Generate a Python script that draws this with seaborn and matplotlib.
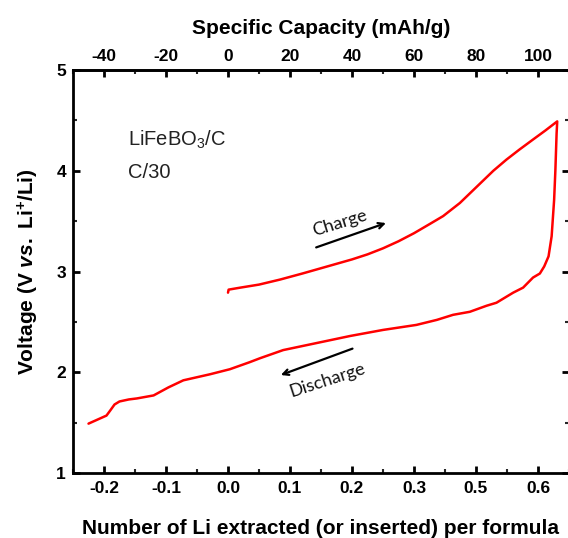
import numpy as np
import pandas as pd
import matplotlib
matplotlib.use("Agg")
import matplotlib.pyplot as plt
import seaborn as sns

# ---- data (x = Li per formula unit, V = voltage) ----
charge_x = [0.000, 0.001, 0.020, 0.050, 0.084, 0.120, 0.160, 0.200, 0.225, 0.250,
            0.275, 0.300, 0.325, 0.347, 0.374, 0.401, 0.428, 0.449, 0.470, 0.492,
            0.512, 0.531]
charge_v = [2.79, 2.82, 2.84, 2.87, 2.92, 2.98, 3.05, 3.12, 3.17, 3.23,
            3.30, 3.38, 3.47, 3.55, 3.68, 3.84, 4.00, 4.11, 4.21, 4.31,
            4.40, 4.49]
discharge_x = [0.530, 0.528, 0.526, 0.522, 0.517, 0.510, 0.503, 0.492, 0.476, 0.460,
               0.433, 0.417, 0.390, 0.363, 0.337, 0.304, 0.250, 0.197, 0.143, 0.089,
               0.052, 0.035, 0.003, -0.029, -0.072, -0.096, -0.120, -0.147, -0.160,
               -0.175, -0.183, -0.190, -0.196, -0.225]
discharge_v = [4.37, 4.00, 3.71, 3.35, 3.15, 3.05, 2.98, 2.94, 2.84, 2.79,
               2.69, 2.66, 2.60, 2.57, 2.52, 2.47, 2.42, 2.36, 2.29, 2.22,
               2.14, 2.10, 2.03, 1.98, 1.92, 1.85, 1.77, 1.74, 1.73,
               1.71, 1.68, 1.62, 1.57, 1.49]

bottom_ticks = [-0.2, -0.1, 0.0, 0.1, 0.2, 0.3, 0.4, 0.5]
bottom_labels = ["-0.2", "-0.1", "0.0", "0.1", "0.2", "0.3", "0.5", "0.6"]
top_ticks = [-40, -20, 0, 20, 40, 60, 80, 100]
y_ticks = [1, 2, 3, 4, 5]
mah_per_li = 200.0

sns.set_style("ticks")
plt.rcParams['font.family'] = ['Liberation Sans', 'DejaVu Sans']
plt.rcParams['axes.unicode_minus'] = False
plt.rcParams['mathtext.fontset'] = 'custom'
plt.rcParams['mathtext.rm'] = 'Liberation Sans:bold'
plt.rcParams['mathtext.it'] = 'Liberation Sans:italic:bold'
plt.rcParams['mathtext.bf'] = 'Liberation Sans:bold'

df = pd.DataFrame({
    "x": charge_x + discharge_x,
    "v": charge_v + discharge_v,
})

fig = plt.figure(figsize=(5.68, 5.38), dpi=100)
ax = fig.add_axes([73/568, (538-473)/538, (569-73)/568, (473-70)/538])

sns.lineplot(data=df, x="x", y="v", sort=False, estimator=None, color="#ff0000",
             lw=1.8, ax=ax, solid_joinstyle="round", solid_capstyle="round")

ax.set_xlim(-0.25, 0.55)
ax.set_ylim(1, 5)
ax.set_xticks(bottom_ticks)
ax.set_xticklabels(bottom_labels)
ax.set_xticks(np.arange(-0.25, 0.551, 0.05), minor=True)
ax.set_yticks(y_ticks)
ax.set_yticks(np.arange(1, 5.01, 0.5), minor=True)

for sp in ax.spines.values():
    sp.set_linewidth(2)
    sp.set_color("black")
    sp.set_visible(True)

TICK_FS = 12.5
LABEL_FS = 15

ax.tick_params(which="major", direction="in", length=5, width=2, right=True,
               top=False, labelsize=TICK_FS, colors="black")
ax.tick_params(axis="x", which="major", pad=6)
ax.tick_params(axis="y", which="major", pad=5)
ax.tick_params(which="minor", direction="in", length=3, width=1.5, right=True, top=False)
for lab in ax.get_xticklabels() + ax.get_yticklabels():
    lab.set_fontweight("bold")

ax.set_xlabel("Number of Li extracted (or inserted) per formula", fontsize=LABEL_FS,
              fontweight="bold", color="black")
ax.xaxis.set_label_coords(0.5, -0.114)
ax.set_ylabel("Voltage (V $\\mathit{vs.}$ Li$^\\mathregular{+}$/Li)", fontsize=LABEL_FS,
              fontweight="bold", color="black")
ax.yaxis.set_label_coords(-0.0645, 0.5)

sec = ax.secondary_xaxis("top", functions=(lambda x: x * mah_per_li,
                                             lambda c: c / mah_per_li))
sec.set_xticks(top_ticks)
sec.set_xticks(np.arange(-50, 111, 10), minor=True)
sec.tick_params(which="major", direction="in", length=5, width=2, labelsize=TICK_FS,
                pad=4, colors="black")
sec.tick_params(which="minor", direction="in", length=3, width=1.5)
for lab in sec.get_xticklabels():
    lab.set_fontweight("bold")
sec.spines["top"].set_linewidth(2)
sec.set_xlabel("Specific Capacity (mAh/g)", fontsize=LABEL_FS, fontweight="bold",
               labelpad=11, color="black")

ax.text(-0.161, 4.25, "LiFeBO$_\\mathregular{3}$/C", fontsize=14.5, va="baseline",
        ha="left", color="#222222")
ax.text(-0.161, 3.93, "C/30", fontsize=14.5, va="baseline", ha="left", color="#222222")

ax.annotate("", xy=(0.259, 3.49), xytext=(0.138, 3.23),
            arrowprops=dict(arrowstyle="->", lw=1.6, color="black"))
ax.annotate("", xy=(0.081, 1.963), xytext=(0.205, 2.244),
            arrowprops=dict(arrowstyle="->", lw=1.6, color="black"))
ax.text(0.181, 3.48, "Charge", fontsize=13, family=["Lato", "DejaVu Sans"],
        rotation=17, rotation_mode="anchor", ha="center", va="center", color="#111111")
ax.text(0.161, 1.92, "Discharge", fontsize=13, family=["Lato", "DejaVu Sans"],
        rotation=18, rotation_mode="anchor", ha="center", va="center", color="#111111")

fig.savefig("out.png", dpi=100)
